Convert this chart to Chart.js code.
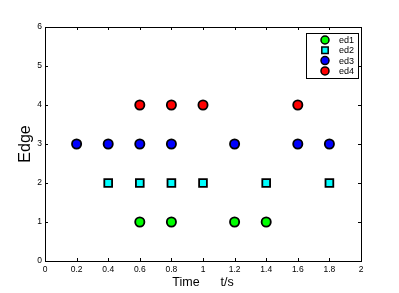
<!DOCTYPE html>
<html>
<head>
<meta charset="utf-8">
<script src="https://cdn.jsdelivr.net/npm/chart.js@4/dist/chart.umd.min.js"></script>
<style>
  html, body { margin: 0; padding: 0; background: #fff; }
  #wrap { width: 399px; height: 293px; }
</style>
</head>
<body>
<div id="wrap"><canvas id="edgeChart" width="399" height="293"></canvas></div>
<script>
// values
const ed1Time = [0.6, 0.8, 1.2, 1.4];
const ed1Edge = [1, 1, 1, 1];
const ed2Time = [0.4, 0.6, 0.8, 1.0, 1.4, 1.8];
const ed2Edge = [2, 2, 2, 2, 2, 2];
const ed3Time = [0.2, 0.4, 0.6, 0.8, 1.2, 1.6, 1.8];
const ed3Edge = [3, 3, 3, 3, 3, 3, 3];
const ed4Time = [0.6, 0.8, 1.0, 1.6];
const ed4Edge = [4, 4, 4, 4];
const xTicks = [0, 0.2, 0.4, 0.6, 0.8, 1, 1.2, 1.4, 1.6, 1.8, 2];
const yTicks = [0, 1, 2, 3, 4, 5, 6];

const FONT = '"Liberation Sans", Arial, sans-serif';

function toPoints(xs, ys) {
    return xs.map(function(x, i) { return {x: x, y: ys[i]}; });
}

// matplotlib-ish box, inward ticks and legend
const boxPlugin = {
    id: 'boxPlugin',
    afterDraw(chart) {
        let ctx = chart.ctx;
        let a = chart.chartArea;
        let xs = chart.scales.x, ys = chart.scales.y;
        ctx.save();
        ctx.strokeStyle = '#000';
        ctx.lineWidth = 1;
        ctx.strokeRect(a.left + 0.5, a.top + 0.5, a.right - a.left, a.bottom - a.top);
        ctx.beginPath();
        xTicks.forEach(function(v) {
            let p = Math.round(xs.getPixelForValue(v)) + 0.5;
            ctx.moveTo(p, a.bottom); ctx.lineTo(p, a.bottom - 3);
            ctx.moveTo(p, a.top); ctx.lineTo(p, a.top + 3);
        });
        yTicks.forEach(function(v) {
            let p = Math.round(ys.getPixelForValue(v)) + 0.5;
            ctx.moveTo(a.left, p); ctx.lineTo(a.left + 3, p);
            ctx.moveTo(a.right, p); ctx.lineTo(a.right - 3, p);
        });
        ctx.stroke();

        // legend box
        let lx = 306, ly = 33, lw = 52, lh = 45;
        ctx.fillStyle = '#fff';
        ctx.fillRect(lx, ly, lw, lh);
        ctx.strokeRect(lx + 0.5, ly + 0.5, lw, lh);
        ctx.font = '9px ' + FONT;
        ctx.textBaseline = 'middle';
        ctx.textAlign = 'left';
        chart.data.datasets.forEach(function(ds, i) {
            let cy = ly + 7 + i * 10.3;
            let cx = lx + 19;
            ctx.fillStyle = ds.backgroundColor;
            ctx.lineWidth = 1.5;
            ctx.beginPath();
            if (ds.pointStyle === 'rect') {
                ctx.rect(cx - 3.2, cy - 3.2, 6.4, 6.4);
            } else {
                ctx.arc(cx, cy, 4, 0, Math.PI * 2);
            }
            ctx.fill();
            ctx.stroke();
            ctx.fillStyle = '#000';
            ctx.fillText(ds.label, lx + 33, cy + 0.5);
        });
        ctx.restore();
    }
};

let ctxS = document.getElementById('edgeChart').getContext('2d');
let edgeChart = new Chart(ctxS, {
    type: 'scatter',
    data: {
        datasets: [
            {label: 'ed1', data: toPoints(ed1Time, ed1Edge), backgroundColor: '#00ff00', pointStyle: 'circle', pointRadius: 4.6},
            {label: 'ed2', data: toPoints(ed2Time, ed2Edge), backgroundColor: '#00ffff', pointStyle: 'rect', pointRadius: 5.5},
            {label: 'ed3', data: toPoints(ed3Time, ed3Edge), backgroundColor: '#0000ff', pointStyle: 'circle', pointRadius: 4.6},
            {label: 'ed4', data: toPoints(ed4Time, ed4Edge), backgroundColor: '#ff0000', pointStyle: 'circle', pointRadius: 4.6}
        ].map(function(d) {
            d.borderColor = '#000';
            d.borderWidth = 1.8;
            d.pointHoverRadius = d.pointRadius;
            return d;
        })
    },
    options: {
        responsive: false,
        animation: false,
        layout: {padding: {left: 0, top: 27, right: 38, bottom: 0}},
        plugins: {legend: {display: false}, tooltip: {enabled: false}},
        scales: {
            x: {
                type: 'linear', min: 0, max: 2,
                afterBuildTicks: function(s) { s.ticks = xTicks.map(function(v) { return {value: v}; }); },
                afterFit: function(s) { s.height = 32; },
                grid: {display: false, drawTicks: false},
                border: {display: false},
                ticks: {color: '#000', padding: 4, maxRotation: 0, autoSkip: false,
                    callback: function(v) { return String(Math.round(v * 10) / 10); },
                    font: {family: FONT, size: 8.5}},
                title: {display: true, text: 'Time      t/s', color: '#000', padding: {top: 0, bottom: 3},
                    font: {family: FONT, size: 12.5}}
            },
            y: {
                type: 'linear', min: 0, max: 6,
                afterBuildTicks: function(s) { s.ticks = yTicks.map(function(v) { return {value: v}; }); },
                afterFit: function(s) { s.width = 45; },
                grid: {display: false, drawTicks: false},
                border: {display: false},
                ticks: {color: '#000', padding: 3, autoSkip: false,
                    font: {family: FONT, size: 8.5}},
                title: {display: true, text: 'Edge', color: '#000', padding: {top: 16, bottom: 0},
                    font: {family: FONT, size: 16}}
            }
        }
    },
    plugins: [boxPlugin]
});
</script>
</body>
</html>
